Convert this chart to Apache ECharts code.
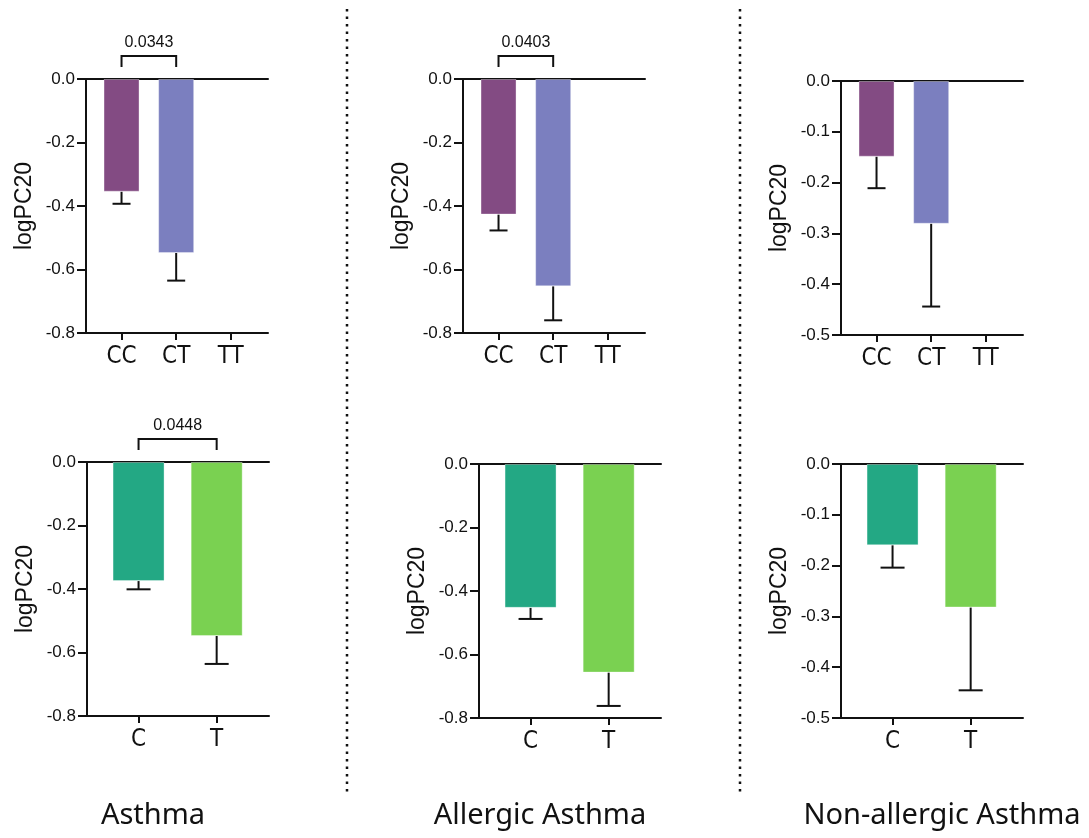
<!DOCTYPE html>
<html>
<head>
<meta charset="utf-8">
<script src="https://cdn.jsdelivr.net/npm/echarts@6/dist/echarts.min.js"></script>
<style>
  html, body { margin: 0; padding: 0; background: #fff; }
  #chart { width: 1089px; height: 838px; }
</style>
</head>
<body>
<div id="chart"></div>
<script>
// categories
var genotypes = ['CC', 'CT', 'TT'];
var alleles = ['C', 'T'];
var panelTitles = ['Asthma', 'Allergic Asthma', 'Non-allergic Asthma'];

// colours
var genoColors = ['#834B83', '#7B7FBF'];
var alleleColors = ['#23A884', '#7AD151'];

// genotype means / SEM (top row)
var asthmaGenoMean = [-0.355, -0.548];
var asthmaGenoSem = [0.038, 0.087];
var allergicGenoMean = [-0.427, -0.653];
var allergicGenoSem = [0.050, 0.107];
var nonAllergicGenoMean = [-0.149, -0.281];
var nonAllergicGenoSem = [0.062, 0.163];

// allele means / SEM (bottom row)
var asthmaAlleleMean = [-0.375, -0.548];
var asthmaAlleleSem = [0.026, 0.088];
var allergicAlleleMean = [-0.453, -0.657];
var allergicAlleleSem = [0.035, 0.105];
var nonAllergicAlleleMean = [-0.160, -0.2825];
var nonAllergicAlleleSem = [0.044, 0.163];

// p-values shown over the first two bars
var pGenoLabels = ['0.0343', '0.0403', null];
var pAlleleLabels = ['0.0448', null, null];

var numFont = '"Liberation Sans", Arial, sans-serif';
var narrowFont = '"Liberation Sans Narrow", "DejaVu Sans Condensed", "Liberation Sans", sans-serif';
var titleFont = '"Noto Sans", "Open Sans", sans-serif';

var panels = [
    {left: 86,  top: 79,  cats: genotypes, mean: asthmaGenoMean, sem: asthmaGenoSem, colors: genoColors, yMin: -0.8, step: 0.2, p: pGenoLabels[0]},
    {left: 463, top: 79,  cats: genotypes, mean: allergicGenoMean, sem: allergicGenoSem, colors: genoColors, yMin: -0.8, step: 0.2, p: pGenoLabels[1]},
    {left: 841, top: 81,  cats: genotypes, mean: nonAllergicGenoMean, sem: nonAllergicGenoSem, colors: genoColors, yMin: -0.5, step: 0.1, p: pGenoLabels[2]},
    {left: 87,  top: 462, cats: alleles, mean: asthmaAlleleMean, sem: asthmaAlleleSem, colors: alleleColors, yMin: -0.8, step: 0.2, p: pAlleleLabels[0]},
    {left: 479, top: 464, cats: alleles, mean: allergicAlleleMean, sem: allergicAlleleSem, colors: alleleColors, yMin: -0.8, step: 0.2, p: pAlleleLabels[1]},
    {left: 841, top: 464, cats: alleles, mean: nonAllergicAlleleMean, sem: nonAllergicAlleleSem, colors: alleleColors, yMin: -0.5, step: 0.1, p: pAlleleLabels[2]}
];

var grids = [], xAxes = [], yAxes = [], series = [];

panels.forEach(function (pn, k) {
    var three = pn.cats.length === 3;
    var xMin = three ? -0.65 : -0.66;
    var xMax = three ? 2.68 : 1.67;
    var barW = three ? 36 : 52;
    var capHalf = three ? 9 : 12;
    var ticks = pn.cats.map(function (c, i) { return i; });

    grids.push({left: pn.left, top: pn.top, width: 182, height: 254});

    // bottom axis (with category ticks)
    xAxes.push({
        type: 'value', gridIndex: k, min: xMin, max: xMax, position: 'bottom',
        axisLine: {show: true, onZero: false, lineStyle: {color: '#111', width: 2}},
        axisTick: {show: true, length: 7, lineStyle: {color: '#111', width: 2}, customValues: ticks},
        axisLabel: {
            show: true, margin: 12, color: '#111', fontSize: 24, fontFamily: narrowFont,
            customValues: ticks,
            formatter: function (v) { return pn.cats[Math.round(v)]; }
        },
        splitLine: {show: false}
    });
    // zero line at the top
    xAxes.push({
        type: 'value', gridIndex: k, min: xMin, max: xMax, position: 'top',
        axisLine: {show: true, onZero: false, lineStyle: {color: '#111', width: 2}},
        axisTick: {show: false}, axisLabel: {show: false}, splitLine: {show: false}
    });

    yAxes.push({
        type: 'value', gridIndex: k, min: pn.yMin, max: 0, interval: pn.step,
        name: 'logPC20', nameLocation: 'middle', nameGap: 50, nameRotate: 90,
        nameTextStyle: {color: '#111', fontSize: 23, fontFamily: numFont},
        axisLine: {show: true, onZero: false, lineStyle: {color: '#111', width: 2}},
        axisTick: {show: true, length: 9, lineStyle: {color: '#111', width: 2}},
        axisLabel: {
            margin: 11, color: '#111', fontSize: 17, fontFamily: numFont,
            formatter: function (v) { return v.toFixed(1); }
        },
        splitLine: {show: false}
    });

    var barData = pn.mean.map(function (m, i) {
        return {value: [i, m], itemStyle: {color: pn.colors[i]}};
    });

    series.push({
        type: 'bar', xAxisIndex: 2 * k, yAxisIndex: k,
        barWidth: barW, data: barData,
        itemStyle: {borderColor: 'rgba(255,255,255,0.35)', borderWidth: 1},
        silent: true, animation: false
    });

    // one-sided error bars
    series.push({
        type: 'custom', xAxisIndex: 2 * k, yAxisIndex: k, clip: false, silent: true, animation: false,
        data: pn.mean.map(function (m, i) { return [i, m, pn.sem[i]]; }),
        encode: {x: 0, y: 1},
        renderItem: function (params, api) {
            var x = api.value(0), m = api.value(1), e = api.value(2);
            var a = api.coord([x, m]);
            var b = api.coord([x, m - e]);
            var st = {stroke: '#111', lineWidth: 2};
            return {
                type: 'group',
                children: [
                    {type: 'line', shape: {x1: a[0], y1: a[1], x2: b[0], y2: b[1]}, style: st},
                    {type: 'line', shape: {x1: b[0] - capHalf, y1: b[1], x2: b[0] + capHalf, y2: b[1]}, style: st}
                ]
            };
        }
    });

    if (pn.p) {
        series.push({
            type: 'custom', xAxisIndex: 2 * k, yAxisIndex: k, clip: false, silent: true, animation: false,
            data: [[0, 1]],
            renderItem: function (params, api) {
                var a = api.coord([api.value(0), 0]);
                var b = api.coord([api.value(1), 0]);
                var yTop = a[1] - 23, yLeg = a[1] - 12;
                var st = {stroke: '#111', lineWidth: 2, fill: null};
                return {
                    type: 'group',
                    children: [
                        {type: 'polyline', shape: {points: [[a[0], yLeg], [a[0], yTop], [b[0], yTop], [b[0], yLeg]]}, style: st},
                        {type: 'text', style: {
                            text: pn.p, x: (a[0] + b[0]) / 2, y: yTop - 5,
                            align: 'center', verticalAlign: 'bottom',
                            fontSize: 16, fontFamily: numFont, fill: '#111'
                        }}
                    ]
                };
            }
        });
    }
});

var titleCenters = [148, 535, 937];
var titles = panelTitles.map(function (t, i) {
    return {
        text: t, left: titleCenters[i], top: 796, textAlign: 'center',
        textStyle: {fontSize: 29, fontWeight: 'normal', color: '#111', fontFamily: titleFont}
    };
});

var dotted = {stroke: '#111', lineWidth: 2.5, lineDash: [2.5, 5]};

var option = {
    backgroundColor: '#fff',
    animation: false,
    title: titles,
    grid: grids,
    xAxis: xAxes,
    yAxis: yAxes,
    series: series,
    graphic: [
        {type: 'line', shape: {x1: 347, y1: 9, x2: 347, y2: 796}, style: dotted, silent: true},
        {type: 'line', shape: {x1: 740, y1: 9, x2: 740, y2: 796}, style: dotted, silent: true}
    ]
};

var chartDom = document.getElementById('chart');
var chart = echarts.init(chartDom);
chart.setOption(option);
</script>
</body>
</html>
